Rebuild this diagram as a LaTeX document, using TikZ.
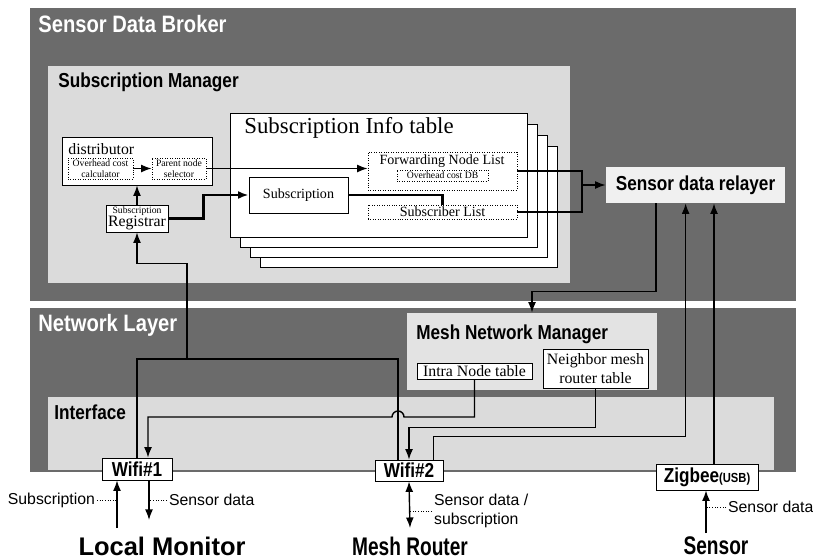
\documentclass[tikz,border=0pt]{standalone}
\usepackage{fontspec}
\setmainfont{Liberation Serif}
\setsansfont{Liberation Sans}
\newfontfamily\headfont[FakeStretch=0.85]{Liberation Sans}
\newfontfamily\endfont[FakeStretch=0.75]{Liberation Sans}
\usepackage{tikz}
\usetikzlibrary{calc,fit,arrows.meta}
\tikzset{
% Shaded layers and panels, white tables, bold captions
layer/.style={fill=black!58,inner sep=0},
panel/.style={fill=black!14,inner sep=0},
tbl/.style={draw,fill=white,inner sep=0},
dtbl/.style={tbl,densely dotted},
txt/.style={inner sep=0,align=center,font=\fontsize{8}{9.5}\selectfont},
tiny/.style={inner sep=0,align=center,font=\fontsize{5.5}{6.5}\selectfont},
layer title/.style={anchor=west,inner sep=0,text=white,font=\headfont\bfseries\fontsize{13.5}{15}\selectfont},
panel title/.style={anchor=west,inner sep=0,font=\headfont\bfseries\fontsize{11.5}{13}\selectfont},
port text/.style={inner sep=0,font=\headfont\bfseries\fontsize{11.5}{13}\selectfont},
end label/.style={font=\endfont\bfseries\fontsize{14.5}{16}\selectfont},
note/.style={inner sep=1pt,font=\sffamily\fontsize{9}{10.5}\selectfont},
link/.style={line width=0.8pt},
leader/.style={densely dotted,line width=0.5pt}
}

\begin{document}
\begin{tikzpicture}[x=0.02cm,y=-0.02cm,>={Latex[length=6pt,width=4.5pt]}]
\useasboundingbox (0,0) rectangle (813,558);
\fill[white] (0,0) rectangle (813,558);

\node[layer,fit={(30,8) (796,301)}] (broker) {};
\node[layer,fit={(30,308) (796,472)}] (netlayer) {};
\node[panel,fit={(48,66) (570,283)}] (submgr) {};
\node[panel,fit={(48,397) (774,470)}] (iface) {};
\node[panel,fill=black!11,fit={(407,313) (657,390)}] (meshmgr) {};
\node[panel,fill=black!6,fit={(606,167) (785,203)}] (relayer) {};

\node[layer title] (brokertxt) at (38,24) {Sensor Data Broker};
\node[layer title] (nettxt) at (38,325) {Network Layer};
\node[panel title] (submgrtxt) at (58,82) {Subscription Manager};
\node[panel title] (ifacetxt) at (54,412) {Interface};
\node[panel title] (meshtxt) at (416,334) {Mesh Network Manager};
\node[port text] (relaytxt) at (relayer) {Sensor data relayer};

\node[tbl,fit={(62,137) (212,185)}] (dist) {};
\node[anchor=west,inner sep=0,font=\fontsize{9}{10}\selectfont] (disttxt) at (68,149) {distributor};
\node[dtbl,fit={(68,158) (133,179)}] (calc) {};
\node[tiny] (calctxt) at (calc) {Overhead cost\\calculator};
\node[dtbl,fit={(152,158) (206,179)}] (sel) {};
\node[tiny] (seltxt) at (sel) {Parent node\\selector};
\node[tbl,fit={(106,205) (168,232)}] (reg) {};
\node[tiny] (regtxt1) at (137,211) {Subscription};
\node[txt,font=\fontsize{9}{10}\selectfont] (regtxt2) at (137,223) {Registrar};

\foreach \k in {3,2,1,0}
  \node[tbl,fit={({230+10*\k},{113+11*\k}) ({527+10*\k},{237+10*\k})}] (sheet\k) {};
\node[anchor=west,inner sep=0,font=\fontsize{13}{15}\selectfont] (infotxt) at (244,128) {Subscription Info table};
\node[dtbl,fit={(368,152) (517,190)}] (fwd) {};
\node[txt] (fwdtxt) at (442,161) {Forwarding Node List};
\node[dtbl,fit={(397,170) (488,181)}] (costdb) {};
\node[tiny] (costdbtxt) at (costdb) {Overhead cost DB};
\node[tbl,fit={(249,177) (348,213)}] (subs) {};
\node[txt] (substxt) at (subs) {Subscription};
\node[dtbl,fit={(368,205) (517,219)}] (sublist) {};
\node[txt] (sublisttxt) at (sublist) {Subscriber List};

\node[tbl,fit={(417,363) (532,379)}] (intra) {};
\node[txt,font=\fontsize{9}{11}\selectfont] (intratxt) at (intra) {Intra Node table};
\node[tbl,fit={(543,349) (648,388)}] (nbr) {};
\node[txt,font=\fontsize{9}{11}\selectfont] (nbrtxt) at (nbr) {Neighbor mesh\\router table};

\node[tbl,fit={(102,458) (172,480)}] (wifi1) {};
\node[port text] (wifi1txt) at (wifi1) {Wifi\#1};
\node[tbl,fit={(375,460) (443,481)}] (wifi2) {};
\node[port text] (wifi2txt) at (wifi2) {Wifi\#2};
\node[tbl,fit={(656,464) (758,490)}] (zigbee) {};
\node[port text] (zigbeetxt) at (zigbee) {Zigbee{\fontsize{7.5}{8}\selectfont(USB)}};

\coordinate (relayin) at (582,185);
\coordinate (upjn) at (187,359);
\coordinate (hump) at (398,417);

\draw[->,link] (calc) -- (sel);
\draw[->,link] (sel.east) -- (sel.east -| fwd.west);
\draw[->,link] (reg.north) -- (reg.north |- dist.south);
\draw[->,line width=1.6pt] (reg.east) -- ++(35,0) |- (subs.west);
\draw[line width=1.2pt] (subs.east) -| (sublist.north);
\draw[link] (fwd.east) -| (relayin);
\draw[link] (sublist.east) -| (relayin);
\draw[->,link] (relayin) -- (relayer.west);
\draw[->,link] ($(relayer.south west)!0.28!(relayer.south east)$) -- ++(0,88) -| (meshmgr.north);

\draw[link] (wifi1.north) |- (upjn) -| ([xshift=-0.22cm]wifi2.north);
\draw[->,link] (upjn) |- ([yshift=-0.62cm]reg.south) -- (reg.south);
\draw[->,link] (intra.south) |- ([xshift=0.12cm]hump) arc[start angle=0,end angle=180,radius=0.12cm] -| ([xshift=0.22cm]wifi1.north);
\draw[->,link] (nbr.south) -- ++(0,39) -| (wifi2.north);
\draw[->,link] ([xshift=-0.2cm]wifi2.north east) -- ++(0,-23) -| ([xshift=1.6cm]relayer.south west);
\draw[->,link] ([xshift=0.14cm]zigbee.north) -- ([xshift=0.14cm]zigbee.north |- relayer.south);

\coordinate (lmup) at (117,528);
\coordinate (lmdown) at (149,520);
\coordinate (mrend) at (410,528);
\coordinate (snup) at (706,533);
\draw[->,link] (lmup) -- (lmup |- wifi1.south);
\draw[<-,link] (lmdown) -- (lmdown |- wifi1.south);
\draw[<->,link] (wifi2.south) -- (mrend);
\draw[->,link] (snup) -- (snup |- zigbee.south);

\node[note,anchor=east] (subnote) at (97,500) {Subscription};
\node[note,anchor=west] (sdnote) at (167,500) {Sensor data};
\node[note,anchor=west,align=left] (mrnote) at (432,511) {Sensor data /\\subscription};
\node[note,anchor=west] (snnote) at (726,507) {Sensor data};
\draw[leader] (subnote.east) -- (subnote.east -| lmup);
\draw[leader] (sdnote.west) -- (sdnote.west -| lmdown);
\draw[leader] (mrnote.west) -- (mrnote.west -| mrend);
\draw[leader] (snnote.west) -- (snnote.west -| snup);

\node[end label,font=\sffamily\bfseries\fontsize{14.5}{16}\selectfont] (lmon) at (162,546) {Local Monitor};
\node[end label] (mrouter) at (410,546) {Mesh Router};
\node[end label] (sensor) at (716,546) {Sensor};
\end{tikzpicture}
\end{document}
